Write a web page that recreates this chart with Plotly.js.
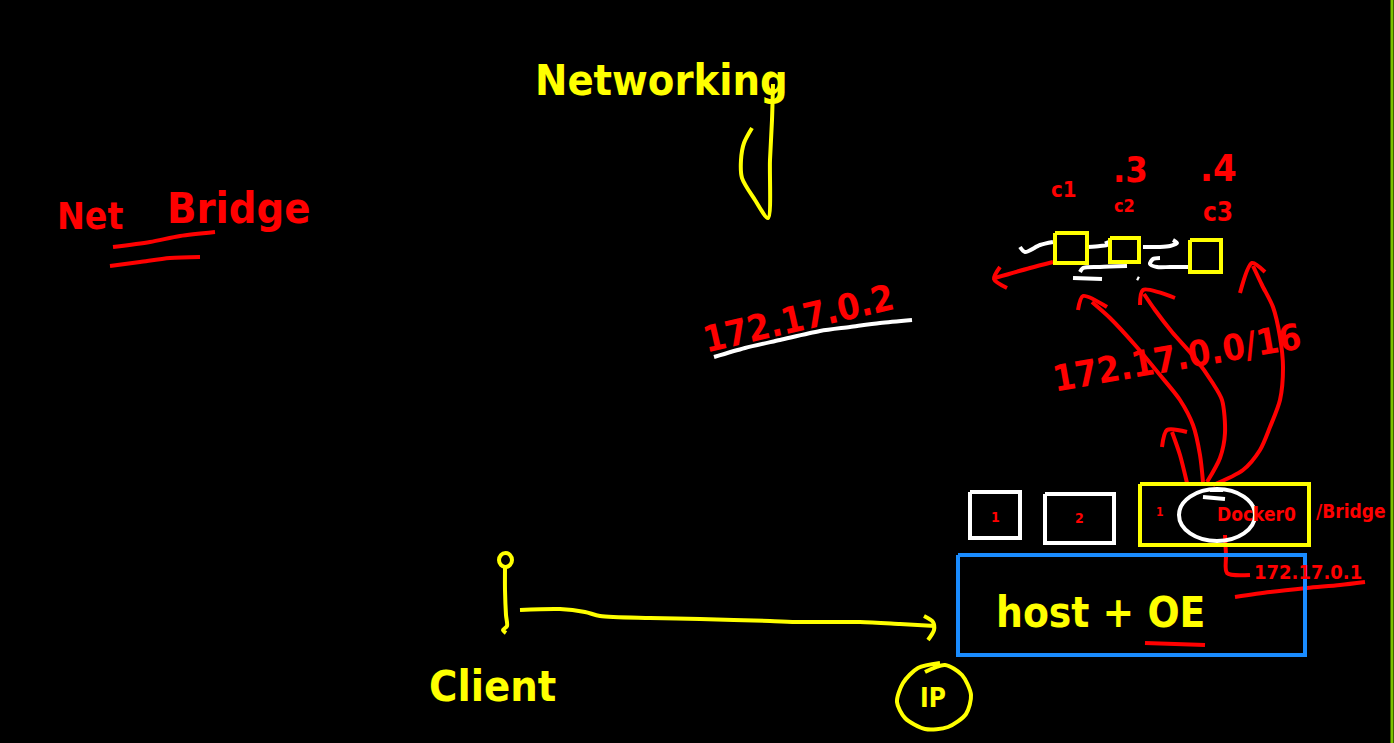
<!DOCTYPE html>
<html>
<head>
<meta charset="utf-8">
<script src="https://cdn.plot.ly/plotly-3.0.1.min.js"></script>
<style>
  html,body{margin:0;padding:0;background:#000;overflow:hidden;}
  #board{width:1394px;height:743px;}
</style>
</head>
<body>
<div id="board"></div>
<script>
// sketch strokes, in board pixels (x right, y down)
const yellowStrokes = [
  [[773,84],[772,120],[770,160],[768,218],[755,200],[742,178],[741,160],[744,143],[752,128]],
  [[505,568],[505,590],[506,615],[507,626],[503,630],[506,633]],
  [[520,610],[560,609],[585,612],[600,616],[650,618],[700,619],[770,621],[800,622],[860,622],[900,624],[935,626]],
  [[924,616],[933,622],[934,630],[928,640]],
  [[940,663],[918,668],[903,683],[897,702],[905,718],[925,729],[948,727],[966,714],[971,695],[962,675],[945,665],[925,672]]
];
const redStrokes = [
  [[113,247],[150,242],[180,236],[215,232]],
  [[110,266],[140,262],[170,258],[200,257]],
  [[1053,262],[1030,268],[995,278]],
  [[1000,267],[994,279],[1007,288]],
  [[1203,482],[1200,455],[1193,425],[1180,400],[1160,375],[1135,345],[1110,318],[1092,302]],
  [[1078,310],[1083,296],[1107,307]],
  [[1207,482],[1220,458],[1225,433],[1222,400],[1212,382],[1195,358],[1172,332],[1155,310],[1144,294]],
  [[1140,305],[1143,290],[1175,298]],
  [[1213,485],[1243,470],[1260,450],[1270,427],[1280,400],[1283,367],[1280,337],[1273,307],[1262,285],[1253,266]],
  [[1240,293],[1252,263],[1265,272]],
  [[1187,483],[1180,455],[1172,432]],
  [[1162,447],[1167,430],[1187,432]],
  [[1225,535],[1226,555],[1227,573],[1250,575]],
  [[1235,597],[1270,592],[1307,588],[1340,585],[1365,582]],
  [[1145,643],[1175,644],[1205,645]]
];
const whiteStrokes = [
  [[714,357],[745,348],[780,340],[820,331],[850,327],[880,323],[912,320]],
  [[1020,247],[1025,252],[1040,245],[1053,242]],
  [[1088,247],[1100,246],[1107,245],[1106,241]],
  [[1143,247],[1160,247],[1170,246],[1177,243],[1173,240]],
  [[1190,267],[1170,267],[1157,267],[1150,264],[1153,259],[1160,258]],
  [[1127,266],[1100,267],[1083,268],[1080,272]],
  [[1073,278],[1102,279]],
  [[1137,278],[1139,279]],
  [[1203,497],[1225,499]],
  [[1210,490],[1223,490]]
];
// boxes: [x0, y0, x1, y1]
const yellowBoxes = [[1055,233,1087,263],[1110,238,1139,262],[1190,240,1221,272],[1140,484,1309,545]];
const whiteBoxes = [[970,492,1020,538],[1045,494,1114,543]];
const blueBoxes = [[958,555,1305,655]];
const whiteRings = [[1179,489,1255,541]];
const yellowRings = [[499,553,512,567]];
const edgeLine = [[1392,0],[1392,743]];

// labels: [text, x, y, size, angle]
const yellowLabels = [
  ["Networking",661,80,43,0],
  ["Client",492,686,43,0],
  ["host + OE",1100,612,42,0],
  ["IP",933,698,26,0]
];
const redLabels = [
  ["Net",90,216,37,0],
  ["Bridge",238,208,43,0],
  ["172.17.0.2",798,318,36,-13],
  ["172.17.0.0/16",1177,357,36,-10],
  ["c1",1064,189,22,0],
  [".3",1130,169,36,0],
  ["c2",1124,205,18,0],
  [".4",1218,168,38,0],
  ["c3",1218,212,26,0],
  ["1",995,517,14,0],
  ["2",1079,518,14,0],
  ["1",1160,512,12,0],
  ["Docker0",1256,514,19,0],
  ["/Bridge",1351,511,19,0],
  ["172.17.0.1",1308,572,20,0]
];

const FONT = "Liberation Sans Narrow, DejaVu Sans Condensed, Liberation Sans, sans-serif";

function flat(paths){
  let x=[], y=[];
  paths.forEach(p=>{p.forEach(q=>{x.push(q[0]); y.push(q[1]);}); x.push(null); y.push(null);});
  return {x:x, y:y};
}
function boxPaths(boxes){
  return boxes.map(b=>[[b[0],b[1]],[b[2],b[1]],[b[2],b[3]],[b[0],b[3]],[b[0],b[1]]]);
}
function strokeTrace(paths, color, width, shape){
  let f = flat(paths);
  return {x:f.x, y:f.y, type:'scatter', mode:'lines', hoverinfo:'skip',
    line:{color:color, width:width, shape:shape, smoothing:0.8}, connectgaps:false};
}
function labelNotes(labels, color){
  return labels.map(l=>({text:l[0], x:l[1], y:l[2], xref:'x', yref:'y', showarrow:false,
    textangle:l[4], font:{family:FONT, size:l[3], color:color, weight:'bold'}}));
}
function ringShapes(rings, color){
  return rings.map(r=>({type:'circle', xref:'x', yref:'y', x0:r[0], y0:r[1], x1:r[2], y1:r[3],
    line:{color:color, width:4}}));
}

let traces = [
  strokeTrace(yellowStrokes,'#ffff00',4,'spline'),
  strokeTrace(redStrokes,'#ff0000',4,'spline'),
  strokeTrace(whiteStrokes,'#ffffff',4,'spline'),
  strokeTrace(boxPaths(yellowBoxes),'#ffff00',4,'linear'),
  strokeTrace(boxPaths(whiteBoxes),'#ffffff',4,'linear'),
  strokeTrace(boxPaths(blueBoxes),'#1a8cff',4,'linear'),
  strokeTrace([edgeLine],'#7cc200',3,'linear')
];

let layout = {
  width:1394, height:743,
  margin:{l:0,r:0,t:0,b:0},
  paper_bgcolor:'#000', plot_bgcolor:'#000',
  showlegend:false,
  xaxis:{range:[0,1394], visible:false, fixedrange:true},
  yaxis:{range:[743,0], visible:false, fixedrange:true},
  shapes: ringShapes(whiteRings,'#ffffff').concat(ringShapes(yellowRings,'#ffff00')),
  annotations: labelNotes(yellowLabels,'#ffff00').concat(labelNotes(redLabels,'#ff0000'))
};

Plotly.newPlot('board', traces, layout, {staticPlot:true, displayModeBar:false});
</script>
</body>
</html>
